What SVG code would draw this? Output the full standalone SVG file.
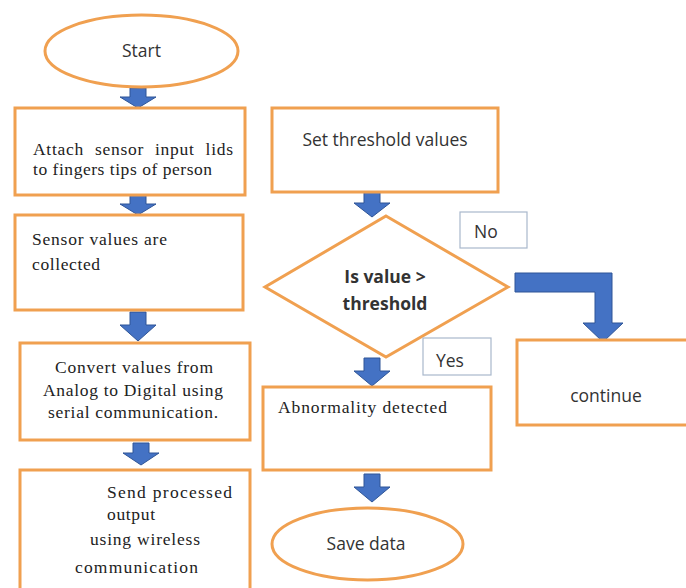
<svg xmlns="http://www.w3.org/2000/svg" width="686" height="588" viewBox="0 0 686 588">
<style>
.box{fill:#ffffff;stroke:#F0A050;stroke-width:3}
.lbl{fill:#ffffff;stroke:#A9B8CC;stroke-width:1.2}
.barrow{fill:#4472C4;stroke:#2F5597;stroke-width:1}
.serif{font-family:"Liberation Serif","Times New Roman",serif;font-size:17.5px;fill:#222}
.sans{font-family:"Open Sans","Liberation Sans",Arial,sans-serif;font-size:17.5px;fill:#333}
.bold{font-weight:bold}
</style>
<rect width="686" height="588" fill="#ffffff"/>
<g id="connectors">
<polygon class="barrow" points="130,88 146,88 146,97 156,97 138,108 120,97 130,97"/>
<polygon class="barrow" points="130,195 146,195 146,204 156,204 138,215 120,204 130,204"/>
<polygon class="barrow" points="130,312 146,312 146,325 156,325 138,341 120,325 130,325"/>
<polygon class="barrow" points="133,443 149,443 149,453 159,453 141,465 123,453 133,453"/>
<polygon class="barrow" points="364,192 380,192 380,203 390,203 372,217 354,203 364,203"/>
<polygon class="barrow" points="364,358 380,358 380,371 390,371 372,386 354,371 364,371"/>
<polygon class="barrow" points="364,474 380,474 380,487 390,487 372,502 354,487 364,487"/>
<polygon class="barrow" points="515,273 612,273 612,323 623,323 603,342 583,323 595,323 595,292 515,292"/>
</g>
<g id="start">
<ellipse class="box" cx="141.5" cy="51" rx="96.5" ry="36"/>
<text class="sans" x="141.5" y="57" text-anchor="middle" font-size="16.5">Start</text>
</g>
<g id="attach">
<rect class="box" x="15" y="108" width="230" height="87"/>
<text class="serif" x="33" y="155" font-size="16" textLength="200" lengthAdjust="spacing" word-spacing="6">Attach sensor input lids</text>
<text class="serif" x="33" y="175" font-size="16" textLength="179" lengthAdjust="spacing">to fingers tips of person</text>
</g>
<g id="collect">
<rect class="box" x="15" y="215" width="228" height="95"/>
<text class="serif" x="32" y="245" textLength="135" lengthAdjust="spacing">Sensor values are</text>
<text class="serif" x="32" y="270" textLength="68" lengthAdjust="spacing">collected</text>
</g>
<g id="convert">
<rect class="box" x="20" y="343" width="230" height="97"/>
<text class="serif" x="55" y="373" textLength="158" lengthAdjust="spacing">Convert values from</text>
<text class="serif" x="43" y="396" textLength="180" lengthAdjust="spacing">Analog to Digital using</text>
<text class="serif" x="48" y="418" textLength="170" lengthAdjust="spacing">serial communication.</text>
</g>
<g id="send">
<rect class="box" x="20" y="470" width="230" height="130"/>
<text class="serif" x="107" y="498" textLength="125" lengthAdjust="spacing">Send  processed</text>
<text class="serif" x="107" y="520" textLength="48" lengthAdjust="spacing">output</text>
<text class="serif" x="90" y="545" textLength="110" lengthAdjust="spacing">using wireless</text>
<text class="serif" x="75" y="573" textLength="123" lengthAdjust="spacing">communication</text>
</g>
<g id="threshold">
<rect class="box" x="272" y="108" width="226" height="84"/>
<text class="sans" x="385" y="146" text-anchor="middle">Set threshold values</text>
</g>
<g id="decision">
<polygon class="box" points="386,216 508,287 386,357 265,287"/>
<text class="sans bold" x="385" y="283" text-anchor="middle" font-size="16">Is value &gt;</text>
<text class="sans bold" x="385" y="310" text-anchor="middle" font-size="16">threshold</text>
</g>
<g id="no-label">
<rect class="lbl" x="460" y="212" width="67" height="36"/>
<text class="sans" x="474" y="238">No</text>
</g>
<g id="yes-label">
<rect class="lbl" x="423" y="338" width="68" height="37"/>
<text class="sans" x="436" y="367">Yes</text>
</g>
<g id="abnormality">
<rect class="box" x="263" y="387" width="228" height="83"/>
<text class="serif" x="278" y="413" textLength="169" lengthAdjust="spacing">Abnormality detected</text>
</g>
<g id="save">
<ellipse class="box" cx="367.5" cy="544" rx="95.5" ry="36"/>
<text class="sans" x="366" y="550" text-anchor="middle">Save data</text>
</g>
<g id="continue">
<rect class="box" x="517" y="340" width="180" height="85"/>
<text class="sans" x="606" y="402" text-anchor="middle">continue</text>
</g>
</svg>
